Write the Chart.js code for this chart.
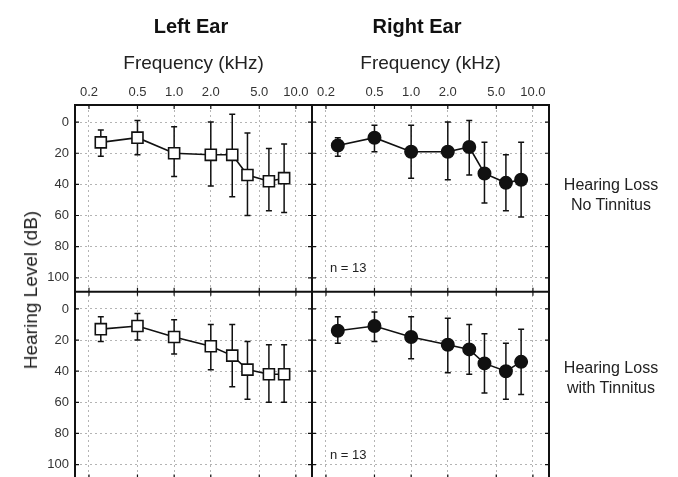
<!DOCTYPE html>
<html>
<head>
<meta charset="utf-8">
<script src="https://cdn.jsdelivr.net/npm/chart.js@4/dist/chart.umd.min.js"></script>
<style>
  html, body { margin: 0; padding: 0; background: #fff; overflow: hidden; }
  body { width: 678px; height: 477px; position: relative; font-family: "Liberation Sans", Arial, sans-serif; color: #111; }
  #wrap { position: absolute; left: 0; top: 0; width: 678px; height: 488px; }
  .lbl { position: absolute; transform: translate(-50%, -50%); white-space: nowrap; text-align: center; }
  .ear { font-weight: bold; font-size: 20px; }
  .grp { font-size: 16px; line-height: 20px; color: #222; }
  .ytitle { font-size: 19px; transform: translate(-50%, -50%) rotate(-90deg); color: #222; }
  .n { position: absolute; font-size: 13px; color: #222; transform: translateY(-50%); }
</style>
</head>
<body>
<div id="wrap"><canvas id="c" width="678" height="488"></canvas></div>
<div class="lbl ear" style="left:191px; top:26px;">Left Ear</div>
<div class="lbl ear" style="left:417px; top:26px;">Right Ear</div>
<div class="lbl ytitle" style="left:31px; top:290px;">Hearing Level (dB)</div>
<div class="lbl grp" style="left:611px; top:195px;">Hearing Loss<br>No Tinnitus</div>
<div class="lbl grp" style="left:611px; top:378px;">Hearing Loss<br>with Tinnitus</div>
<div class="n" style="left:330px; top:267px;">n = 13</div>
<div class="n" style="left:330px; top:454px;">n = 13</div>
<script>
// ---- data ----
const freqs = [0.25, 0.5, 1, 2, 3, 4, 6, 8];            // kHz
const xTickValues = [0.2, 0.5, 1, 2, 5, 10];
const xTickLabels = ['0.2', '0.5', '1.0', '2.0', '5.0', '10.0'];
const yTickValues = [0, 20, 40, 60, 80, 100];

// Hearing Loss, No Tinnitus
const leftNoTinMean  = [13, 10, 20, 21, 21, 34, 38, 36];
const leftNoTinLow   = [5, -1, 3, 0, -5, 7, 17, 14];
const leftNoTinHigh  = [22, 21, 35, 41, 48, 60, 57, 58];
const rightNoTinMean = [15, 10, 19, 19, 16, 33, 39, 37];
const rightNoTinLow  = [10, 2, 2, 0, -1, 13, 21, 13];
const rightNoTinHigh = [22, 19, 36, 37, 34, 52, 57, 61];

// Hearing Loss with Tinnitus
const leftTinMean  = [13, 11, 18, 24, 30, 39, 42, 42];
const leftTinLow   = [5, 3, 7, 10, 10, 21, 23, 23];
const leftTinHigh  = [21, 20, 29, 39, 50, 58, 60, 60];
const rightTinMean = [14, 11, 18, 23, 26, 35, 40, 34];
const rightTinLow  = [5, 2, 5, 6, 10, 16, 22, 13];
const rightTinHigh = [22, 21, 32, 41, 42, 54, 58, 55];

const FONT = '"Liberation Sans", Arial, sans-serif';

function pts(mean, lo, hi) {
  return freqs.map((f, i) => ({ x: f, y: mean[i], lo: lo[i], hi: hi[i] }));
}

function ds(label, mean, lo, hi, xId, yId, filled) {
  return {
    label,
    data: pts(mean, lo, hi),
    xAxisID: xId,
    yAxisID: yId,
    borderColor: '#111',
    borderWidth: 1.6,
    pointStyle: filled ? 'circle' : 'rect',
    pointRadius: filled ? 6.2 : 7.8,
    pointBackgroundColor: filled ? '#111' : '#fff',
    pointBorderColor: '#111',
    pointBorderWidth: 1.6,
    tension: 0,
    fill: false
  };
}

const errorBars = {
  id: 'errorBars',
  beforeDatasetsDraw(chart) {
    const ctx = chart.ctx;
    ctx.save();
    ctx.strokeStyle = '#111';
    ctx.lineWidth = 1.5;
    chart.data.datasets.forEach((d) => {
      const xs = chart.scales[d.xAxisID], ys = chart.scales[d.yAxisID];
      d.data.forEach(p => {
        const x = xs.getPixelForValue(p.x);
        const y1 = ys.getPixelForValue(p.lo), y2 = ys.getPixelForValue(p.hi);
        ctx.beginPath();
        ctx.moveTo(x, y1); ctx.lineTo(x, y2);
        ctx.moveTo(x - 3, y1); ctx.lineTo(x + 3, y1);
        ctx.moveTo(x - 3, y2); ctx.lineTo(x + 3, y2);
        ctx.stroke();
      });
    });
    ctx.restore();
  }
};

const frames = {
  id: 'frames',
  afterDraw(chart) {
    const ctx = chart.ctx;
    const panels = [['xL', 'yT'], ['xR', 'yT'], ['xL', 'yB'], ['xR', 'yB']];
    ctx.save();
    ctx.strokeStyle = '#111';
    ctx.lineWidth = 1.2;
    panels.forEach(([xi, yi]) => {
      const xs = chart.scales[xi], ys = chart.scales[yi];
      const l = xs.left, r = xs.right, t = ys.top, b = ys.bottom;
      ctx.beginPath();
      xTickValues.forEach(v => {
        const x = xs.getPixelForValue(v);
        ctx.moveTo(x, t); ctx.lineTo(x, t + 4);
        ctx.moveTo(x, b); ctx.lineTo(x, b - 4);
      });
      yTickValues.forEach(v => {
        const y = ys.getPixelForValue(v);
        ctx.moveTo(l, y); ctx.lineTo(l + 4, y);
        ctx.moveTo(r, y); ctx.lineTo(r - 4, y);
      });
      ctx.stroke();
    });
    ctx.lineWidth = 2;
    ctx.beginPath();
    const a = chart.chartArea;
    ctx.rect(a.left, a.top, a.right - a.left, a.bottom - a.top);
    const xm = chart.scales.xL.right, ym = chart.scales.yT.bottom;
    ctx.moveTo(xm, a.top); ctx.lineTo(xm, a.bottom);
    ctx.moveTo(a.left, ym); ctx.lineTo(a.right, ym);
    ctx.stroke();
    ctx.restore();
  }
};

function xScale(weight) {
  return {
    type: 'logarithmic', position: 'top', stack: 'freq', stackWeight: 1, weight,
    min: 0.1535, max: 13.55,
    afterBuildTicks: s => { s.ticks = xTickValues.map(v => ({ value: v })); },
    afterFit: s => { s.height = 55; s.paddingLeft = 0; s.paddingRight = 0; },
    ticks: {
      autoSkip: false, maxRotation: 0, padding: 5, color: '#333',
      font: { family: FONT, size: 13 },
      callback: (v, i) => xTickLabels[i]
    },
    grid: { color: '#b4b4b4', lineWidth: 1, drawTicks: false },
    border: { display: false, dash: [2, 3] },
    title: { display: true, text: 'Frequency (kHz)', color: '#222', font: { family: FONT, size: 19 }, padding: { top: 2, bottom: 0 } }
  };
}
function yScale(weight) {
  return {
    type: 'linear', position: 'left', stack: 'level', stackWeight: 1, weight,
    reverse: true, min: -11, max: 109,
    afterBuildTicks: s => { s.ticks = yTickValues.map(v => ({ value: v })); },
    afterFit: s => { s.width = 28; s.paddingTop = 0; s.paddingBottom = 0; },
    ticks: { padding: 6, color: '#333', font: { family: FONT, size: 13 } },
    grid: { color: '#b4b4b4', lineWidth: 1, drawTicks: false },
    border: { display: false, dash: [2, 3] }
  };
}

new Chart(document.getElementById('c'), {
  type: 'line',
  data: {
    datasets: [
      ds('Left ear, no tinnitus', leftNoTinMean, leftNoTinLow, leftNoTinHigh, 'xL', 'yT', false),
      ds('Right ear, no tinnitus', rightNoTinMean, rightNoTinLow, rightNoTinHigh, 'xR', 'yT', true),
      ds('Left ear, tinnitus', leftTinMean, leftTinLow, leftTinHigh, 'xL', 'yB', false),
      ds('Right ear, tinnitus', rightTinMean, rightTinLow, rightTinHigh, 'xR', 'yB', true)
    ]
  },
  options: {
    responsive: false,
    animation: false,
    parsing: false,
    layout: { padding: { left: 47, top: 50, right: 129, bottom: 0 } },
    plugins: { legend: { display: false }, tooltip: { enabled: false } },
    scales: {
      xL: xScale(2),
      xR: xScale(1),
      yT: yScale(2),
      yB: yScale(1)
    }
  },
  plugins: [errorBars, frames]
});
</script>
</body>
</html>
